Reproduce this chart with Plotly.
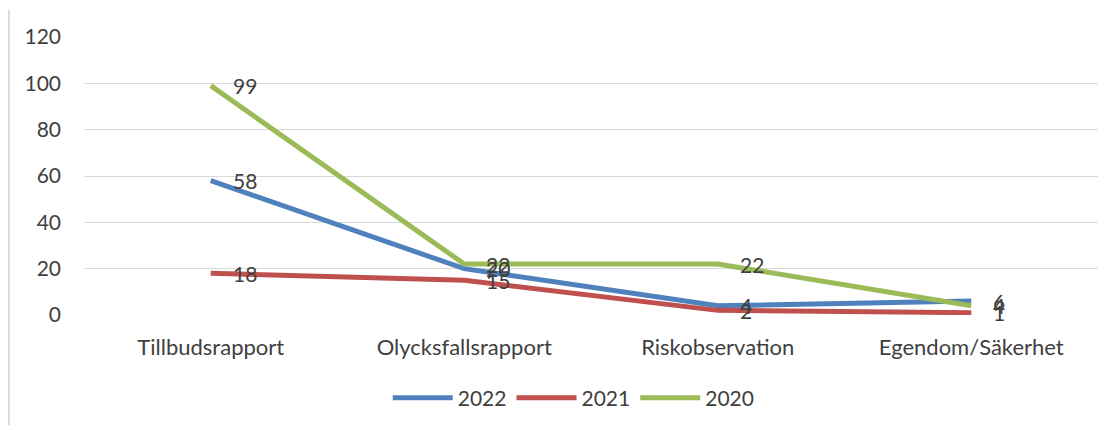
import plotly.graph_objects as go

# data
categories = ["Tillbudsrapport", "Olycksfallsrapport", "Riskobservation", "Egendom/Säkerhet"]
y2022 = [58, 20, 4, 6]
y2021 = [18, 15, 2, 1]
y2020 = [99, 22, 22, 4]
series_names = ["2022", "2021", "2020"]
y_ticks = [0, 20, 40, 60, 80, 100, 120]

COLORS = ["#4F81BD", "#C0504D", "#9BBB59"]
TEXT_COLOR = "#404040"
FONT = "Lato, Open Sans, sans-serif"

fig = go.Figure()
for name, values, color in zip(series_names, [y2022, y2021, y2020], COLORS):
    fig.add_trace(go.Scatter(
        x=categories, y=values, name=name,
        mode="lines",
        line=dict(color=color, width=5),
    ))
    # data labels to the right of each point, like Excel
    for cat, v in zip(categories, values):
        fig.add_annotation(x=cat, y=v, text=str(v), showarrow=False,
                           xanchor="left", yanchor="middle", xshift=20,
                           font=dict(size=21, color=TEXT_COLOR, family=FONT))

# chart-area border on the left
fig.add_shape(type="line", xref="paper", yref="paper",
              x0=-0.0742, x1=-0.0742, y0=-0.396, y1=1.097,
              line=dict(color="#D9D9D9", width=2))

fig.update_layout(
    width=1113, height=430,
    margin=dict(l=76, r=23, t=29, b=123),
    paper_bgcolor="white", plot_bgcolor="white",
    font=dict(family=FONT, size=21, color=TEXT_COLOR),
    xaxis=dict(range=[-0.5, 3.5], showgrid=False, ticks="",
               showline=False, zeroline=False, automargin=False,
               ticklabelstandoff=17,
               tickfont=dict(size=22, color=TEXT_COLOR)),
    yaxis=dict(range=[0, 120], tickvals=y_ticks, showgrid=True,
               gridcolor="#D9D9D9", gridwidth=1.3, zeroline=False,
               ticks="", ticklabelstandoff=22, automargin=False,
               tickfont=dict(size=21, color=TEXT_COLOR)),
    legend=dict(orientation="h", x=0.483, xanchor="center", y=-0.225,
                yanchor="top", font=dict(size=21, color=TEXT_COLOR),
                itemwidth=60, traceorder="normal"),
    showlegend=True,
)

fig.write_html("out.html")
